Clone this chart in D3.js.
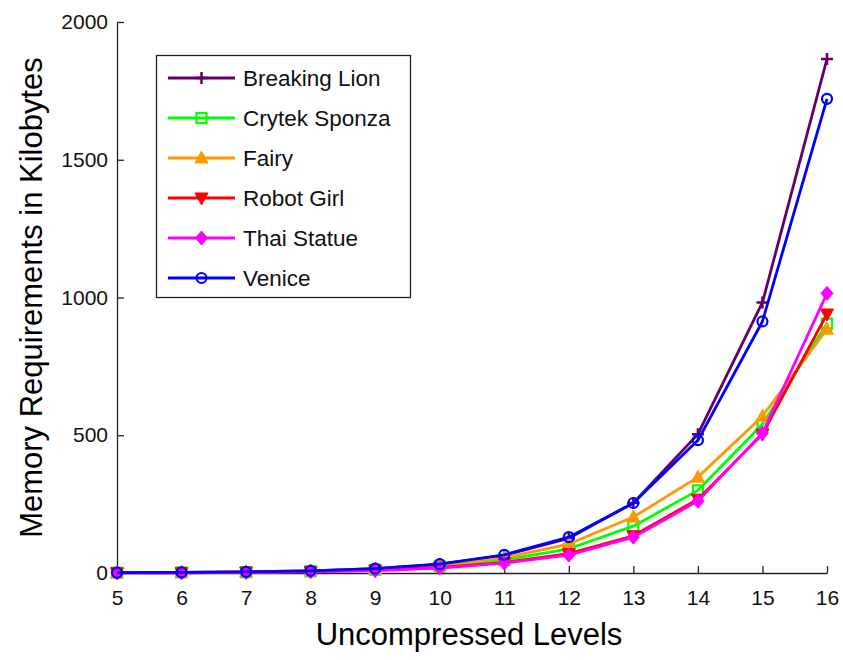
<!DOCTYPE html>
<html>
<head>
<meta charset="utf-8">
<script src="https://cdn.jsdelivr.net/npm/d3@7"></script>
<style>
  html, body { margin: 0; padding: 0; background: #fff; }
  svg { display: block; font-family: "Liberation Sans", Arial, sans-serif; }
  .axis path, .axis line { stroke: #222; stroke-width: 1.3; }
  .axis text { font-size: 21px; fill: #111; }
</style>
</head>
<body>
<div id="chart"></div>
<script>
// memory per scene vs. number of uncompressed levels
const levels = [5, 6, 7, 8, 9, 10, 11, 12, 13, 14, 15, 16];
const yTicks = [0, 500, 1000, 1500, 2000];

const breakingLion = [1, 2, 4, 8, 16, 32, 64, 126, 254, 504, 982, 1866];
const crytekSponza = [1, 2, 3, 6, 12, 24, 47, 88, 170, 300, 540, 905];
const fairy        = [1, 2, 4, 7, 14, 28, 55, 105, 203, 348, 569, 885];
const robotGirl    = [1, 1, 3, 5, 10, 20, 38, 70, 135, 268, 504, 940];
const thaiStatue   = [1, 1, 2, 5, 9, 18, 36, 65, 130, 261, 508, 1015];
const venice       = [1, 2, 4, 8, 16, 32, 66, 130, 254, 482, 913, 1721];

const seriesNames  = ["Breaking Lion", "Crytek Sponza", "Fairy", "Robot Girl", "Thai Statue", "Venice"];
const seriesColors = ["#660066", "#00ff00", "#ff9900", "#ff0000", "#ff00ff", "#0000ff"];
const seriesMarks  = ["plus", "square", "triUp", "triDown", "diamond", "circle"];
const seriesValues = [breakingLion, crytekSponza, fairy, robotGirl, thaiStatue, venice];

const W = 843, H = 660;
const M = { top: 22, right: 16, bottom: 87, left: 117 };

const svg = d3.select("#chart").append("svg").attr("width", W).attr("height", H);

const x = d3.scaleLinear().domain([5, 16]).range([M.left, W - M.right]);
const y = d3.scaleLinear().domain([0, 2000]).range([H - M.bottom, M.top]);

// axes — matlab style, ticks pointing inward, no box
svg.append("g").attr("class", "axis")
  .attr("transform", `translate(0,${H - M.bottom})`)
  .call(d3.axisBottom(x).tickValues(levels).tickFormat(d3.format("d"))
    .tickSizeInner(-7).tickSizeOuter(0).tickPadding(17));

svg.append("g").attr("class", "axis")
  .attr("transform", `translate(${M.left},0)`)
  .call(d3.axisLeft(y).tickValues(yTicks).tickFormat(d3.format("d"))
    .tickSizeInner(-7).tickSizeOuter(0).tickPadding(9));

svg.append("text")
  .attr("x", (M.left + W - M.right) / 2 - 3).attr("y", 645)
  .attr("text-anchor", "middle").attr("font-size", 31).attr("fill", "#000")
  .text("Uncompressed Levels");

svg.append("text")
  .attr("transform", `translate(42,${(M.top + H - M.bottom) / 2}) rotate(-90)`)
  .attr("text-anchor", "middle").attr("font-size", 31).attr("fill", "#000")
  .text("Memory Requirements in Kilobytes");

function drawMarker(g, kind, color) {
  if (kind === "plus") {
    g.append("path").attr("d", "M-6,0H6M0,-6V6").attr("stroke", color).attr("stroke-width", 2.5).attr("fill", "none");
  } else if (kind === "square") {
    g.append("rect").attr("x", -5).attr("y", -5).attr("width", 10).attr("height", 10)
      .attr("fill", "none").attr("stroke", color).attr("stroke-width", 2.2);
  } else if (kind === "circle") {
    g.append("circle").attr("r", 5).attr("fill", "none").attr("stroke", color).attr("stroke-width", 2.2);
  } else if (kind === "triUp") {
    g.append("path").attr("d", "M0,-7L6.5,5H-6.5Z").attr("fill", color).attr("stroke", color).attr("stroke-width", 1);
  } else if (kind === "triDown") {
    g.append("path").attr("d", "M0,7L6.5,-5H-6.5Z").attr("fill", color).attr("stroke", color).attr("stroke-width", 1);
  } else if (kind === "diamond") {
    g.append("path").attr("d", "M0,-7L6,0L0,7L-6,0Z").attr("fill", color).attr("stroke", color).attr("stroke-width", 1);
  }
}

const line = d3.line().x((d, i) => x(levels[i])).y((d) => y(d));

seriesValues.forEach((vals, si) => {
  const color = seriesColors[si];
  svg.append("path").datum(vals)
    .attr("d", line).attr("fill", "none")
    .attr("stroke", color).attr("stroke-width", 2.8).attr("stroke-linejoin", "round");
  vals.forEach((v, i) => {
    const g = svg.append("g").attr("transform", `translate(${x(levels[i])},${y(v)})`);
    drawMarker(g, seriesMarks[si], color);
  });
});

// legend
const legend = svg.append("g");
legend.append("rect").attr("x", 156.5).attr("y", 55.5).attr("width", 254).attr("height", 242)
  .attr("fill", "#fff").attr("stroke", "#222").attr("stroke-width", 1.3);

seriesNames.forEach((name, i) => {
  const cy = 78 + i * 40;
  const color = seriesColors[i];
  legend.append("line").attr("x1", 168).attr("x2", 235).attr("y1", cy).attr("y2", cy)
    .attr("stroke", color).attr("stroke-width", 2.8);
  drawMarker(legend.append("g").attr("transform", `translate(201.5,${cy})`), seriesMarks[i], color);
  legend.append("text").attr("x", 243).attr("y", cy + 8)
    .attr("font-size", 22.5).attr("fill", "#111").text(name);
});
</script>
</body>
</html>
